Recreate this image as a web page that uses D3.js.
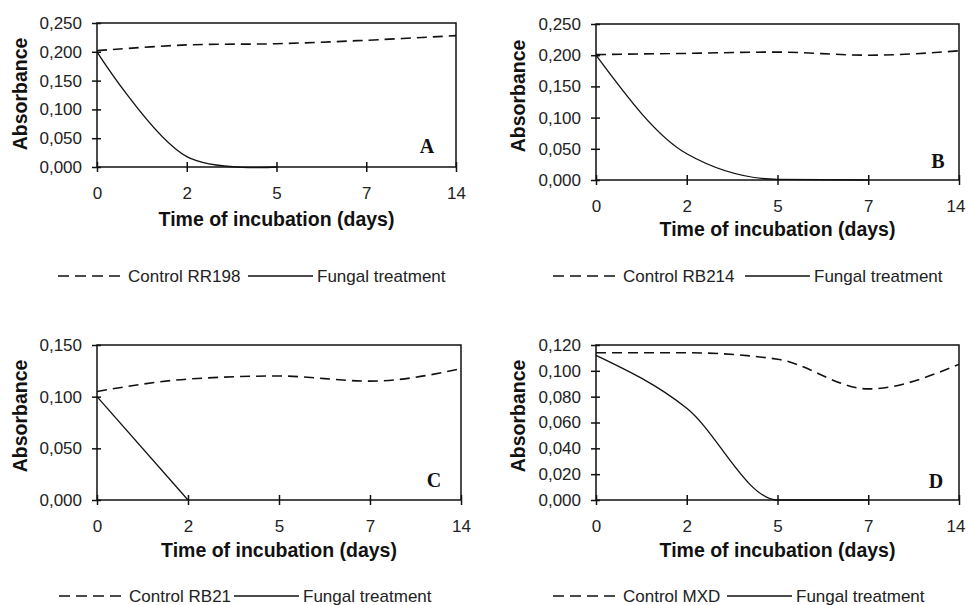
<!DOCTYPE html>
<html>
<head>
<meta charset="utf-8">
<script src="https://cdn.jsdelivr.net/npm/d3@7"></script>
<style>
  body { margin: 0; background: #fff; }
  svg { display: block; font-family: "Liberation Sans", Arial, sans-serif; }
</style>
</head>
<body>
<svg id="chart" width="967" height="605"></svg>
<script>
// categories on the x axis (evenly spaced, Excel style)
const days = ['0', '2', '5', '7', '14'];

// absorbance readings, one entry per day (fungal series stop once they hit zero)
const controlA = [0.202, 0.212, 0.214, 0.220, 0.228];
const fungalA = [0.200, 0.018, 0.000];
const controlB = [0.201, 0.203, 0.205, 0.200, 0.207];
const fungalB = [0.200, 0.042, 0.001, 0.000];
const controlC = [0.105, 0.117, 0.120, 0.115, 0.127];
const fungalC = [0.100, 0.000];
const controlD = [0.114, 0.114, 0.109, 0.086, 0.105];
const fungalD = [0.112, 0.071, 0.000, 0.000];

// y tick values
const ticksA = [0, 0.05, 0.10, 0.15, 0.20, 0.25];
const ticksB = [0, 0.05, 0.10, 0.15, 0.20, 0.25];
const ticksC = [0, 0.05, 0.10, 0.15];
const ticksD = [0, 0.02, 0.04, 0.06, 0.08, 0.10, 0.12];

const letters = ['A', 'B', 'C', 'D'];
const controlNames = ['Control RR198', 'Control RB214', 'Control RB21', 'Control MXD'];
const fungalName = 'Fungal treatment';

const conf = {
  width: 967,
  tickFont: 17,
  titleFont: 19.5,
  legendFont: 17,
  dash: '10,6'
};

// where each panel sits on the page
const layout = [
  { left: 97, right: 456, top: 23, bottom: 167, yLabelX: 27, yLabelY: 94, titleY: 226, letterX: 427, letterY: 153, legendY: 282, dashX: 58, solidX: 248, curve: d3.curveCatmullRom },
  { left: 596, right: 959, top: 24, bottom: 180, yLabelX: 525, yLabelY: 96, titleY: 236, letterX: 938, letterY: 168, legendY: 282, dashX: 553, solidX: 745, curve: d3.curveMonotoneX },
  { left: 97, right: 461, top: 345, bottom: 500, yLabelX: 27, yLabelY: 416, titleY: 557, letterX: 434, letterY: 487, legendY: 602, dashX: 59, solidX: 234, curve: d3.curveMonotoneX },
  { left: 596, right: 959, top: 345, bottom: 500, yLabelX: 525, yLabelY: 416, titleY: 557, letterX: 936, letterY: 488, legendY: 602, dashX: 553, solidX: 727, curve: d3.curveMonotoneX }
];

const panels = [
  { control: controlA, fungal: fungalA, ticks: ticksA },
  { control: controlB, fungal: fungalB, ticks: ticksB },
  { control: controlC, fungal: fungalC, ticks: ticksC },
  { control: controlD, fungal: fungalD, ticks: ticksD }
];

const fmt = v => d3.format('.3f')(v).replace('.', ',');

const svg = d3.select('#chart');

const drawPanel = function(p, i) {
  const L = layout[i];
  const g = svg.append('g').attr('class', 'panel');

  const x = d3.scalePoint().domain(days).range([L.left, L.right]).padding(0);
  const y = d3
    .scaleLinear()
    .domain([0, d3.max(p.ticks)])
    .range([L.bottom, L.top]);

  // frame
  g.append('rect')
    .attr('x', L.left)
    .attr('y', L.top)
    .attr('width', L.right - L.left)
    .attr('height', L.bottom - L.top)
    .attr('fill', 'none')
    .attr('stroke', '#111')
    .attr('stroke-width', 1.5);

  // y axis, ticks cross the frame
  const yAxis = g
    .append('g')
    .attr('transform', 'translate(' + L.left + ',0)')
    .call(
      d3
        .axisLeft(y)
        .tickValues(p.ticks)
        .tickFormat(fmt)
        .tickSize(5)
        .tickPadding(10)
    );
  yAxis.select('.domain').remove();
  yAxis.selectAll('line').attr('x1', 4).attr('stroke', '#111').attr('stroke-width', 1.5);
  yAxis
    .selectAll('text')
    .attr('font-size', conf.tickFont)
    .attr('font-family', '"Liberation Sans", Arial, sans-serif')
    .attr('fill', '#222');

  // x axis
  const xAxis = g
    .append('g')
    .attr('transform', 'translate(0,' + L.bottom + ')')
    .call(d3.axisBottom(x).tickSize(5));
  xAxis.select('.domain').remove();
  xAxis.selectAll('line').attr('y1', -5).attr('stroke', '#111').attr('stroke-width', 1.5);
  xAxis
    .selectAll('text')
    .attr('y', 32)
    .attr('dy', null)
    .attr('font-size', conf.tickFont)
    .attr('font-family', '"Liberation Sans", Arial, sans-serif')
    .attr('fill', '#222')
    .each(function(d) {
      // keep the last label inside the page
      const w = this.getComputedTextLength();
      const over = x(d) + w / 2 - (conf.width - 2);
      if (over > 0) d3.select(this).attr('x', -over);
    });

  const line = d3
    .line()
    .x((d, j) => x(days[j]))
    .y(d => y(d))
    .curve(L.curve);

  g.append('path')
    .attr('d', line(p.control))
    .attr('fill', 'none')
    .attr('stroke', '#111')
    .attr('stroke-width', 1.6)
    .attr('stroke-dasharray', conf.dash);

  g.append('path')
    .attr('d', line(p.fungal))
    .attr('fill', 'none')
    .attr('stroke', '#111')
    .attr('stroke-width', 1.3);

  // axis titles
  g.append('text')
    .attr('transform', 'translate(' + L.yLabelX + ',' + L.yLabelY + ') rotate(-90)')
    .attr('text-anchor', 'middle')
    .attr('font-size', conf.titleFont)
    .attr('font-weight', 'bold')
    .attr('fill', '#111')
    .text('Absorbance');

  g.append('text')
    .attr('x', (L.left + L.right) / 2)
    .attr('y', L.titleY)
    .attr('text-anchor', 'middle')
    .attr('font-size', conf.titleFont)
    .attr('font-weight', 'bold')
    .attr('fill', '#111')
    .text('Time of incubation (days)');

  // panel letter
  g.append('text')
    .attr('x', L.letterX)
    .attr('y', L.letterY)
    .attr('text-anchor', 'middle')
    .attr('font-family', '"Liberation Serif", "Times New Roman", serif')
    .attr('font-weight', 'bold')
    .attr('font-size', 20)
    .attr('fill', '#111')
    .text(letters[i]);

  // legend
  const ly = L.legendY - 6;
  g.append('line')
    .attr('x1', L.dashX)
    .attr('x2', L.dashX + 66)
    .attr('y1', ly)
    .attr('y2', ly)
    .attr('stroke', '#111')
    .attr('stroke-width', 1.5)
    .attr('stroke-dasharray', '11,6');
  g.append('text')
    .attr('x', L.dashX + 70)
    .attr('y', L.legendY)
    .attr('font-size', conf.legendFont)
    .attr('fill', '#222')
    .text(controlNames[i]);
  g.append('line')
    .attr('x1', L.solidX)
    .attr('x2', L.solidX + 65)
    .attr('y1', ly)
    .attr('y2', ly)
    .attr('stroke', '#111')
    .attr('stroke-width', 1.3);
  g.append('text')
    .attr('x', L.solidX + 69)
    .attr('y', L.legendY)
    .attr('font-size', conf.legendFont)
    .attr('fill', '#222')
    .text(fungalName);
};

panels.forEach(drawPanel);
</script>
</body>
</html>
